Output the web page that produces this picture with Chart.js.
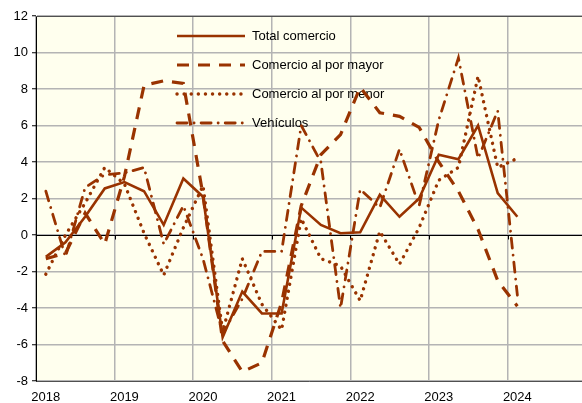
<!DOCTYPE html>
<html><head><meta charset="utf-8">
<script src="https://cdn.jsdelivr.net/npm/chart.js@4.4.0/dist/chart.umd.min.js"></script>
<style>html,body{margin:0;padding:0;background:#fff}#wrap{width:582px;height:403px;position:relative}</style>
</head><body><div id="wrap"><canvas id="c" width="582" height="403"></canvas></div>
<script>
// Quarters (categories)
const quarters = ['2018T1','2018T2','2018T3','2018T4','2019T1','2019T2','2019T3','2019T4',
  '2020T1','2020T2','2020T3','2020T4','2021T1','2021T2','2021T3','2021T4',
  '2022T1','2022T2','2022T3','2022T4','2023T1','2023T2','2023T3','2023T4','2024T1'];
const yearLabels = ['2018','2019','2020','2021','2022','2023','2024'];
const yTicks = [-8,-6,-4,-2,0,2,4,6,8,10,12];
const seriesNames = ['Total comercio','Comercio al por mayor','Comercio al por menor','Vehículos'];

const totalComercio = [-1.2,-0.4,1.0,2.55,2.9,2.4,0.55,3.1,2.1,-5.6,-3.1,-4.3,-4.3,1.5,0.55,0.1,0.15,2.2,1.0,2.0,4.4,4.15,6.0,2.3,1.0];
const porMayor      = [-1.3,-1.0,1.2,-0.5,3.2,8.2,8.45,8.3,2.2,-5.8,-7.5,-7.0,-3.7,1.6,4.4,5.5,8.1,6.7,6.5,5.9,4.0,2.4,0.3,-2.5,-3.9];
const porMenor      = [-2.15,0.0,1.75,3.7,2.8,0.1,-2.2,0.4,2.7,-5.3,-1.3,-3.8,-5.2,0.9,-1.3,-1.7,-3.6,0.2,-1.6,0.4,3.0,3.7,8.7,3.7,4.2];
const vehiculos     = [2.4,-1.2,2.6,3.3,3.4,3.7,-0.5,1.6,-1.3,-5.4,-3.5,-0.9,-0.9,6.0,4.0,-4.0,2.5,1.5,4.7,1.6,6.3,9.7,4.2,6.8,-3.3];

const BROWN = '#993300';
const FONT = "'Liberation Sans', Arial, sans-serif";
const toPts = arr => arr.map((v, i) => ({x: i + 0.5, y: v}));

const styles = [
  {borderWidth: 2.6, borderDash: [], borderCapStyle: 'butt'},
  {borderWidth: 3.2, borderDash: [12, 9], borderCapStyle: 'butt'},
  {borderWidth: 3.4, borderDash: [0.1, 7], borderCapStyle: 'round'},
  {borderWidth: 2.8, borderDash: [10, 7, 0.1, 7], borderCapStyle: 'round'}
];
const seriesData = [totalComercio, porMayor, porMenor, vehiculos];

const datasets = seriesData.map((d, k) => Object.assign({
  label: seriesNames[k],
  data: toPts(d),
  borderColor: BROWN,
  backgroundColor: BROWN,
  pointRadius: 0,
  tension: 0,
  fill: false,
  borderJoinStyle: 'miter'
}, styles[k]));

const bgPlugin = {
  id: 'bg',
  beforeDraw(chart) {
    const {ctx, chartArea: a} = chart;
    ctx.save();
    ctx.fillStyle = '#FFFFEE';
    ctx.fillRect(a.left, a.top, a.right - a.left, a.bottom - a.top);
    ctx.restore();
  },
  beforeDatasetsDraw(chart) {
    const {ctx, chartArea: a, scales} = chart;
    const y0 = Math.round(scales.y.getPixelForValue(0)) + 0.5;
    ctx.save();
    ctx.strokeStyle = '#505050'; ctx.lineWidth = 1;
    ctx.beginPath(); ctx.moveTo(a.left, a.top + 0.5); ctx.lineTo(a.right, a.top + 0.5); ctx.stroke();
    ctx.strokeStyle = '#000'; ctx.lineWidth = 1;
    ctx.beginPath(); ctx.moveTo(a.left, y0); ctx.lineTo(a.right, y0); ctx.stroke();
    for (let i = 0; i < yearLabels.length; i++) {
      const x = Math.round(scales.x.getPixelForValue(i * 4)) + 0.5;
      ctx.beginPath(); ctx.moveTo(x, y0); ctx.lineTo(x, y0 + 4); ctx.stroke();
    }
    const lx0 = 177, lx1 = 245, tx = 252, rows = [36, 65, 94, 123];
    chart.data.datasets.forEach((ds, k) => {
      const y = rows[k];
      ctx.save();
      ctx.strokeStyle = ds.borderColor; ctx.lineWidth = ds.borderWidth;
      ctx.setLineDash(ds.borderDash || []); ctx.lineCap = ds.borderCapStyle || 'butt';
      ctx.beginPath(); ctx.moveTo(lx0, y); ctx.lineTo(lx1, y); ctx.stroke();
      ctx.restore();
      ctx.fillStyle = '#000'; ctx.font = '13px ' + FONT; ctx.textBaseline = 'middle';
      ctx.fillText(ds.label, tx, y + 0.5);
    });
    ctx.restore();
  }
};

new Chart(document.getElementById('c'), {
  type: 'line',
  data: {datasets},
  options: {
    responsive: false,
    animation: false,
    devicePixelRatio: 1,
    layout: {padding: {top: 16, left: 0, right: 0, bottom: 0}},
    plugins: {legend: {display: false}, tooltip: {enabled: false}},
    scales: {
      x: {
        type: 'linear',
        min: 0,
        max: 27.79,
        afterBuildTicks: s => { s.ticks = yearLabels.map((_, i) => ({value: i * 4})); },
        afterFit: s => { s.height = 22; },
        ticks: {
          callback: (v) => yearLabels[Math.round(v / 4)],
          labelOffset: 9.8,
          padding: 9,
          maxRotation: 0,
          autoSkip: false,
          color: '#000',
          font: {family: FONT, size: 13}
        },
        grid: {color: '#B4B4B4', lineWidth: 1.5, drawTicks: false},
        border: {display: true, color: '#505050', width: 1}
      },
      y: {
        min: -8,
        max: 12,
        afterBuildTicks: s => { s.ticks = yTicks.map(v => ({value: v})); },
        afterFit: s => { s.width = 36; },
        ticks: {
          callback: v => String(v),
          padding: 4,
          color: '#000',
          font: {family: FONT, size: 13}
        },
        grid: {color: '#B4B4B4', lineWidth: 1.5, tickLength: 4, tickColor: '#000', tickWidth: 1},
        border: {display: true, color: '#000', width: 1}
      }
    }
  },
  plugins: [bgPlugin]
});
</script></body></html>
